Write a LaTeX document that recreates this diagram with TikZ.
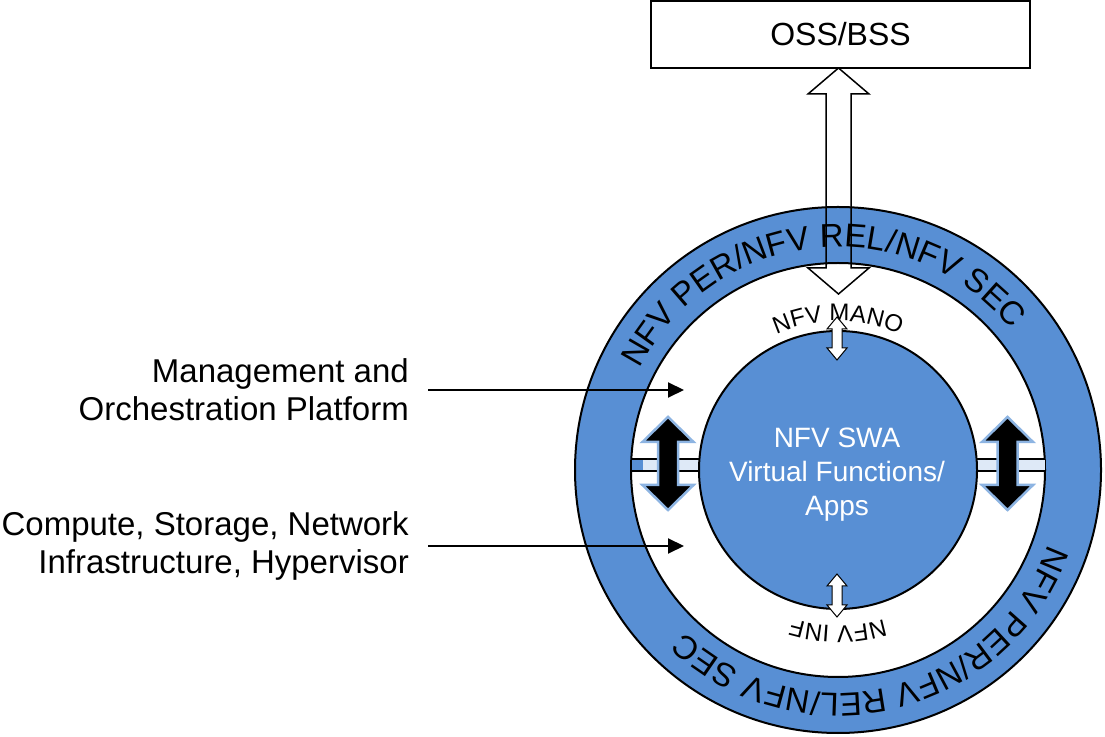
\documentclass[tikz,border=0pt]{standalone}
\usepackage{fontspec}
\setmainfont{Liberation Sans}
\usetikzlibrary{arrows.meta,decorations.text}
\definecolor{ringblue}{RGB}{88,143,212}
\definecolor{glowblue}{RGB}{141,180,226}
\definecolor{paleblue}{RGB}{222,233,247}

\tikzset{
  ring/.style={fill=ringblue, draw=black, line width=2pt},
  hole/.style={fill=white, draw=black, line width=2pt},
  sidetext/.style={align=right, anchor=east, inner sep=0pt, font=\fontsize{33}{38}\selectfont},
  pointer/.style={line width=2pt, -{Triangle[length=16pt,width=15pt]}},
  hollow/.style={draw=black, line width=1.5pt},
  smallarr/.style={fill=white, draw=black, line width=1pt},
  bigarr/.style={fill=black, draw=glowblue, line width=2.5pt},
}

% double headed arrow: x, top tip, bottom tip, shaft half, head half, head length, style
\newcommand{\dblarrow}[7]{%
  \draw[#7] (#1,#2) -- (#1+#5,#2-#6) -- (#1+#4,#2-#6) -- (#1+#4,#3+#6) -- (#1+#5,#3+#6)
    -- (#1,#3) -- (#1-#5,#3+#6) -- (#1-#4,#3+#6) -- (#1-#4,#2-#6) -- (#1-#5,#2-#6) -- cycle;}

\begin{document}
\begin{tikzpicture}[x=1pt,y=1pt]
    \useasboundingbox (0,0) rectangle (1105,736);

    %%% rings %%%
    \coordinate (c) at (838,266);
    \draw[ring] (c) circle[radius=263];
    \draw[hole] (c) circle[radius=207];

    % pipes through the white ring
    \fill[paleblue] (631.5,265) rectangle (700,277);
    \fill[ringblue] (631.5,265) rectangle (643,277);
    \draw[line width=1.5pt] (631.5,265) -- (700,265);  \draw[line width=1.5pt] (631.5,277) -- (700,277);
    \fill[paleblue] (976,265) rectangle (1044.5,277);
    \draw[line width=1.5pt] (976,265) -- (1044.5,265); \draw[line width=1.5pt] (976,277) -- (1044.5,277);

    \draw[ring] (c) circle[radius=139];

    %%% texts on the rings %%%
    \path[decorate, decoration={text along path, text align=center,
        text={|\fontsize{33}{33}\selectfont|NFV PER/NFV REL/NFV SEC}}]
        (c) ++(196:223) arc[start angle=196, end angle=-4, radius=223];
    \path[decorate, decoration={text along path, text align=center,
        text={|\fontsize{33}{33}\selectfont|NFV PER/NFV REL/NFV SEC}}]
        (c) ++(23.5:223) arc[start angle=23.5, end angle=-176.5, radius=223];
    \path[decorate, decoration={text along path, text align=center,
        text={|\fontsize{24}{24}\selectfont|NFV MANO}}]
        (c) ++(150:149) arc[start angle=150, end angle=30, radius=149];
    \path[decorate, decoration={text along path, text align=center,
        text={|\fontsize{24}{24}\selectfont|NFV INF}}]
        (c) ++(-30:156) arc[start angle=-30, end angle=-150, radius=156];

    \node[text=white, align=center, font=\fontsize{28}{34}\selectfont] (swa) at (837,261)
        {NFV SWA\\Virtual Functions/\\Apps};

    %%% OSS/BSS %%%
    \node[draw, line width=1.5pt, minimum width=379, minimum height=67, inner sep=0pt,
        font=\fontsize{32}{32}\selectfont] (oss) at (840.5,701.5) {OSS/BSS};
    \dblarrow{838.5}{668}{442}{12.5}{30.5}{26}{hollow}

    %%% small and big arrows %%%
    \dblarrow{837}{419}{376}{5}{10}{12}{smallarr}
    \dblarrow{837}{162}{119}{5}{10}{12}{smallarr}
    \dblarrow{668}{319}{226}{10}{25.5}{25}{bigarr}
    \dblarrow{1007.5}{319}{226}{10}{25.5}{25}{bigarr}

    %%% left labels %%%
    \node[sidetext] (mgmt) at (409,346) {Management and\\Orchestration Platform};
    \node[sidetext] (infra) at (409,190) {Compute, Storage, Network\\Infrastructure, Hypervisor};
    \coordinate (mgmtpt) at (684,346);
    \coordinate (infrapt) at (684,190);
    \draw[pointer] ([xshift=19pt]mgmt.east) -- (mgmtpt);
    \draw[pointer] ([xshift=19pt]infra.east) -- (infrapt);

\end{tikzpicture}
\end{document}
